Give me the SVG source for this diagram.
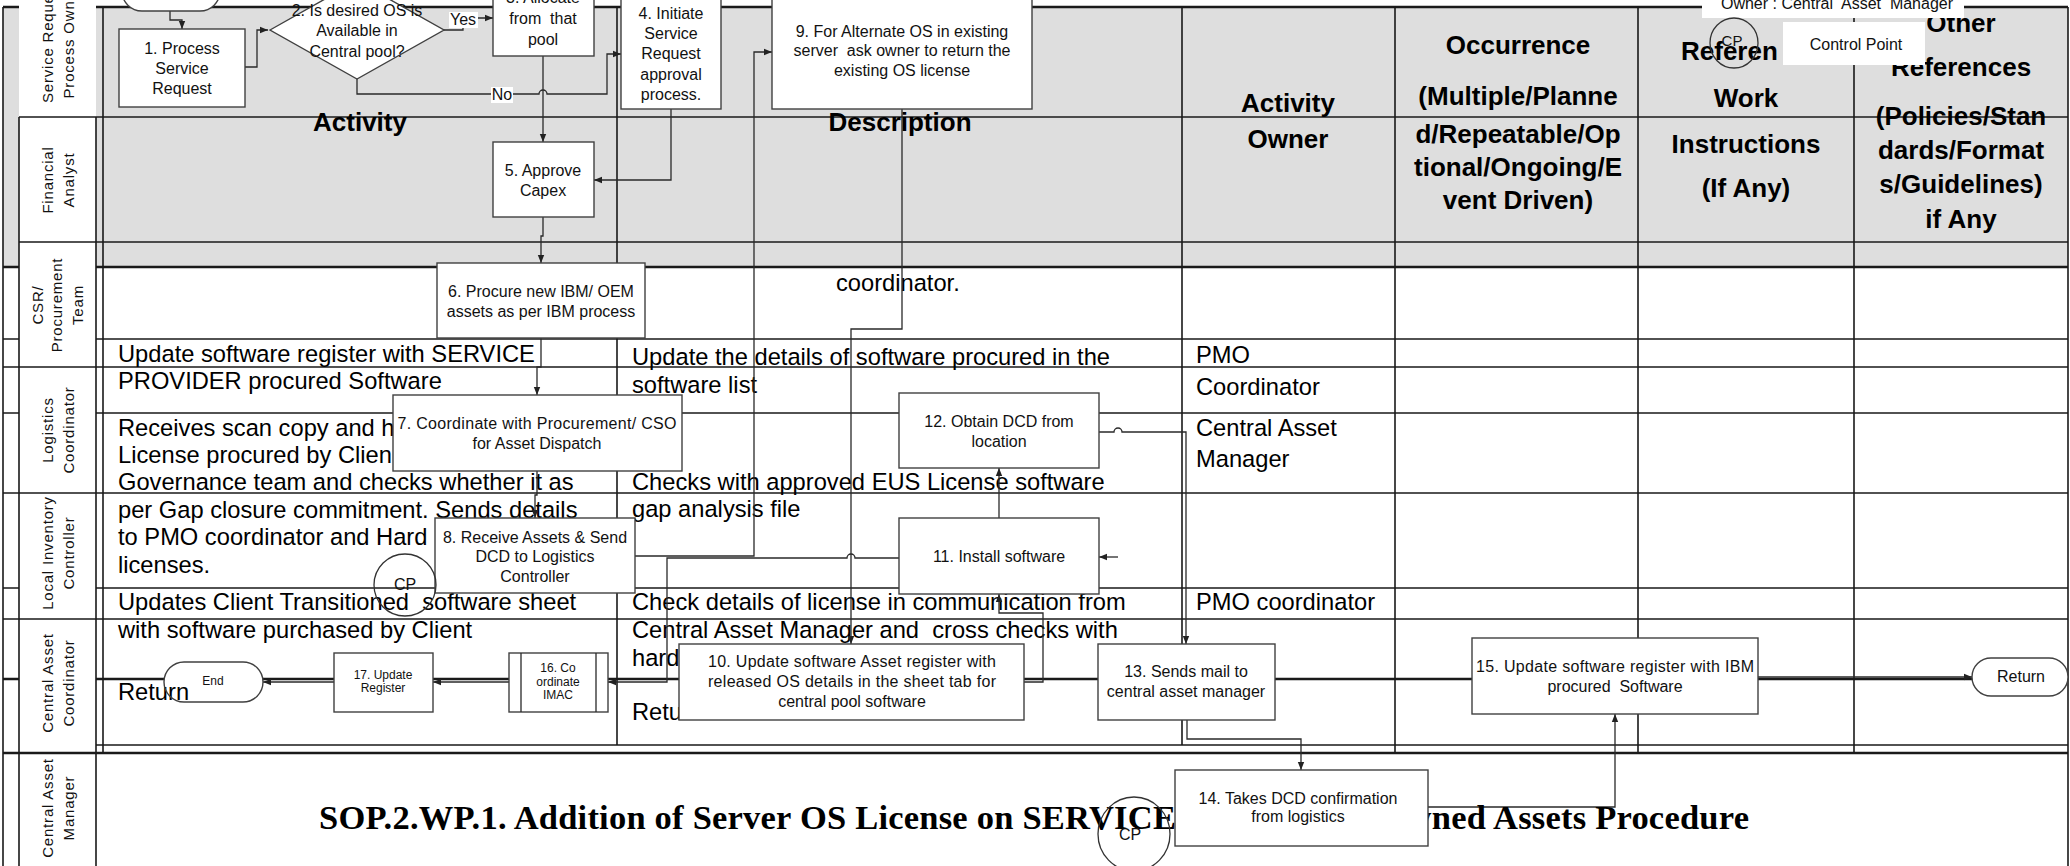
<svg xmlns="http://www.w3.org/2000/svg" width="2070" height="866" viewBox="0 0 2070 866">
<style>
.ln{stroke:#1a1a1a;stroke-width:1.6;fill:none}
.thk{stroke-width:2.4}
.box{fill:#fff;stroke:#404040;stroke-width:1.4}
.cn{fill:none;stroke:#2a2a2a;stroke-width:1.3}
.bt{font-family:"Liberation Sans",Arial,sans-serif;font-size:16px;fill:#111;text-anchor:middle}
.sm{font-size:12px}
.hd{font-family:"Liberation Sans",Arial,sans-serif;font-weight:bold;font-size:26px;fill:#000;text-anchor:middle}
.tx{font-family:"Liberation Sans",Arial,sans-serif;font-size:23.7px;fill:#000}
.lb{font-family:"Liberation Sans",Arial,sans-serif;font-size:15px;letter-spacing:0.8px;fill:#111;text-anchor:middle}
.ttl{font-family:"Liberation Serif","Times New Roman",serif;font-weight:bold;font-size:34.5px;fill:#000}
</style>
<defs>
<marker id="ah" viewBox="0 0 10 10" refX="10" refY="5" markerWidth="8" markerHeight="8" markerUnits="userSpaceOnUse" orient="auto"><path d="M0,1 L10,5 L0,9 z" fill="#222"/></marker>
</defs>
<rect width="2070" height="866" fill="#fff"/>

<!-- table: header band, grid and cell text -->
<g id="table">
<rect x="3" y="7" width="2065" height="260" fill="#dedede"/>
<path class="ln" d="M3,339H2068M3,367H2068M3,413H2068M3,493H2068M3,588H2068M3,619H2068M96,745H2068"/>
<path class="ln thk" d="M3,7H19M96,7H2068M3,267H2068M3,753H2068"/>
<path class="ln" d="M19,117H2068M19,242H2068"/>
<path class="ln thk" d="M3,679H19M96,679H164M263,679H2068"/>
<path class="ln" d="M3,7V866M103,7V753M617,7V745M1182,7V745M1395,7V753M1638,7V753M1854,7V753M2068,7V866"/>
</g>

<!-- swimlane label column -->
<g id="lanes">
<rect x="19" y="0" width="77" height="866" fill="#fff"/>
<path class="ln" d="M19,117V866M96,117V866M19,117H96M19,242H96M19,367H96M19,493H96M19,619H96"/>
<path class="ln thk" d="M19,753H96"/>
<text class="lb" transform="translate(48,42) rotate(-90)" y="5">Service Request</text>
<text class="lb" transform="translate(69,42) rotate(-90)" y="5">Process Owner</text>
<text class="lb" transform="translate(48,180) rotate(-90)" y="5">Financial</text>
<text class="lb" transform="translate(69,180) rotate(-90)" y="5">Analyst</text>
<text class="lb" transform="translate(38,305) rotate(-90)" y="5">CSR/</text>
<text class="lb" transform="translate(57,305) rotate(-90)" y="5">Procurement</text>
<text class="lb" transform="translate(78,305) rotate(-90)" y="5">Team</text>
<text class="lb" transform="translate(48,430) rotate(-90)" y="5">Logistics</text>
<text class="lb" transform="translate(69,430) rotate(-90)" y="5">Coordinator</text>
<text class="lb" transform="translate(48,553) rotate(-90)" y="5">Local Inventory</text>
<text class="lb" transform="translate(69,553) rotate(-90)" y="5">Controller</text>
<text class="lb" transform="translate(48,683) rotate(-90)" y="5">Central Asset</text>
<text class="lb" transform="translate(69,683) rotate(-90)" y="5">Coordinator</text>
<text class="lb" transform="translate(48,808) rotate(-90)" y="5">Central Asset</text>
<text class="lb" transform="translate(69,808) rotate(-90)" y="5">Manager</text>
</g>

<!-- column headings -->
<g id="headings">
<text class="hd" x="360" y="131">Activity</text>
<text class="hd" x="900" y="131">Description</text>
<text class="hd" x="1288" y="112">Activity</text>
<text class="hd" x="1288" y="148">Owner</text>
<text class="hd" x="1518" y="54">Occurrence</text>
<text class="hd" x="1518" y="105">(Multiple/Planne</text>
<text class="hd" x="1518" y="143">d/Repeatable/Op</text>
<text class="hd" x="1518" y="176">tional/Ongoing/E</text>
<text class="hd" x="1518" y="209">vent Driven)</text>
<text class="hd" x="1681" y="60" style="text-anchor:start">Referen</text>
<text class="hd" x="1746" y="107">Work</text>
<text class="hd" x="1746" y="153">Instructions</text>
<text class="hd" x="1746" y="197">(If Any)</text>
<text class="hd" x="1961" y="32">Other</text>
<text class="hd" x="1961" y="76">References</text>
<text class="hd" x="1961" y="125">(Policies/Stan</text>
<text class="hd" x="1961" y="159">dards/Format</text>
<text class="hd" x="1961" y="193">s/Guidelines)</text>
<text class="hd" x="1961" y="228">if Any</text>
</g>

<!-- cell text -->
<g id="cells">
<text class="tx" x="118" y="362">Update software register with SERVICE</text>
<text class="tx" x="118" y="389">PROVIDER procured Software</text>
<text class="tx" x="118" y="436">Receives scan copy and h</text>
<text class="tx" x="118" y="463">License procured by Clien</text>
<text class="tx" x="118" y="490">Governance team and checks whether it as</text>
<text class="tx" x="118" y="518">per Gap closure commitment. Sends details</text>
<text class="tx" x="118" y="545">to PMO coordinator and Hard</text>
<text class="tx" x="118" y="573">licenses.</text>
<text class="tx" x="118" y="610" xml:space="preserve">Updates Client Transitioned  software sheet</text>
<text class="tx" x="118" y="638">with software purchased by Client</text>
<text class="tx" x="118" y="700">Return</text>
<text class="tx" x="836" y="291">coordinator.</text>
<text class="tx" x="632" y="365">Update the details of software procured in the</text>
<text class="tx" x="632" y="393">software list</text>
<text class="tx" x="632" y="490">Checks with approved EUS License software</text>
<text class="tx" x="632" y="517">gap analysis file</text>
<text class="tx" x="632" y="610">Check details of license in communication from</text>
<text class="tx" x="632" y="638" xml:space="preserve">Central Asset Manager and  cross checks with</text>
<text class="tx" x="632" y="666">hard</text>
<text class="tx" x="632" y="720">Retu</text>
<text class="tx" x="1196" y="363">PMO</text>
<text class="tx" x="1196" y="395">Coordinator</text>
<text class="tx" x="1196" y="436">Central Asset</text>
<text class="tx" x="1196" y="467">Manager</text>
<text class="tx" x="1196" y="610">PMO coordinator</text>
</g>

<!-- flow connectors -->
<g id="connectors">
<path class="cn" d="M170,11V20H182V29" marker-end="url(#ah)"/>
<path class="cn" d="M245,67H257V30H268" marker-end="url(#ah)"/>
<path class="cn" d="M444,30H463V18H493" marker-end="url(#ah)"/>
<path class="cn" d="M357,79V94H539a4,4 0 0 1 8,0H607V54H621" marker-end="url(#ah)"/>
<path class="cn" d="M543,56V142" marker-end="url(#ah)"/>
<path class="cn" d="M671,109V180H594" marker-end="url(#ah)"/>
<path class="cn" d="M543,217V236H541V263" marker-end="url(#ah)"/>
<path class="cn" d="M541,338V367H537V395" marker-end="url(#ah)"/>
<path class="cn" d="M537,471V495H535V518" marker-end="url(#ah)"/>
<path class="cn" d="M635,556H754V52H772" marker-end="url(#ah)"/>
<path class="cn" d="M902,109V329H851V644" marker-end="url(#ah)"/>
<path class="cn" d="M899,558H855a4,4 0 0 0 -8,0H667V682H608" marker-end="url(#ah)"/>
<path class="cn" d="M509,682H433" marker-end="url(#ah)"/>
<path class="cn" d="M334,682H263" marker-end="url(#ah)"/>
<path class="cn" d="M1024,682H1043V613H999V594" marker-end="url(#ah)"/>
<path class="cn" d="M999,518V468" marker-end="url(#ah)"/>
<path class="cn" d="M1118,557H1099" marker-end="url(#ah)"/>
<path class="cn" d="M1099,432H1114a4,4 0 0 1 8,0H1186V644" marker-end="url(#ah)"/>
<path class="cn" d="M1187,720V739H1301V770" marker-end="url(#ah)"/>
<path class="cn" d="M1428,807H1615V714" marker-end="url(#ah)"/>
<path class="cn" d="M1758,677H1972" marker-end="url(#ah)"/>
<rect x="449" y="12" width="29" height="16" fill="#fff"/>
<text class="bt" x="463" y="25">Yes</text>
<rect x="491" y="87" width="22" height="16" fill="#fff"/>
<text class="bt" x="502" y="100">No</text>
</g>

<!-- process steps -->
<g id="start"><rect class="box" x="122" y="-30" width="98" height="41" rx="20"/></g>
<g id="step1"><rect class="box" x="119" y="29" width="126" height="78"/>
<text class="bt" x="182" y="54">1. Process</text><text class="bt" x="182" y="74">Service</text><text class="bt" x="182" y="94">Request</text></g>
<g id="step2"><polygon class="box" points="270,30 357,-19 444,30 357,79"/>
<text class="bt" x="357" y="16">2. Is desired OS is</text><text class="bt" x="357" y="36">Available in</text><text class="bt" x="357" y="57">Central pool?</text></g>
<g id="step3"><rect class="box" x="493" y="-5" width="101" height="61"/>
<text class="bt" x="543" y="3">3. Allocate</text><text class="bt" x="543" y="24" xml:space="preserve">from  that</text><text class="bt" x="543" y="45">pool</text></g>
<g id="step4"><rect class="box" x="621" y="-5" width="100" height="114"/>
<text class="bt" x="671" y="19">4. Initiate</text><text class="bt" x="671" y="39">Service</text><text class="bt" x="671" y="59">Request</text><text class="bt" x="671" y="80">approval</text><text class="bt" x="671" y="100">process.</text></g>
<g id="step5"><rect class="box" x="493" y="142" width="101" height="75"/>
<text class="bt" x="543" y="176">5. Approve</text><text class="bt" x="543" y="196">Capex</text></g>
<g id="step6"><rect class="box" x="437" y="263" width="208" height="75"/>
<text class="bt" x="541" y="297">6. Procure new IBM/ OEM</text><text class="bt" x="541" y="317">assets as per IBM process</text></g>
<g id="step7"><rect class="box" x="393" y="395" width="289" height="76"/>
<text class="bt" x="537" y="429" textLength="279" lengthAdjust="spacing">7. Coordinate with Procurement/ CSO</text><text class="bt" x="537" y="449">for Asset Dispatch</text></g>
<g id="step8"><rect class="box" x="435" y="518" width="200" height="75"/>
<text class="bt" x="535" y="543">8. Receive Assets &amp; Send</text><text class="bt" x="535" y="562">DCD to Logistics</text><text class="bt" x="535" y="582">Controller</text></g>
<g id="step9"><rect class="box" x="772" y="-5" width="260" height="114"/>
<text class="bt" x="902" y="37">9. For Alternate OS in existing</text><text class="bt" x="902" y="56" xml:space="preserve">server  ask owner to return the</text><text class="bt" x="902" y="76">existing OS license</text></g>
<g id="step10"><rect class="box" x="679" y="644" width="345" height="76"/>
<text class="bt" x="852" y="667" textLength="288" lengthAdjust="spacing">10. Update software Asset register with</text><text class="bt" x="852" y="687" textLength="288" lengthAdjust="spacing">released OS details in the sheet tab for</text><text class="bt" x="852" y="707">central pool software</text></g>
<g id="step11"><rect class="box" x="899" y="518" width="200" height="76"/>
<text class="bt" x="999" y="562">11. Install software</text></g>
<g id="step12"><rect class="box" x="899" y="393" width="200" height="75"/>
<text class="bt" x="999" y="427">12. Obtain DCD from</text><text class="bt" x="999" y="447">location</text></g>
<g id="step13"><rect class="box" x="1098" y="644" width="177" height="76"/>
<text class="bt" x="1186" y="677">13. Sends mail to</text><text class="bt" x="1186" y="697">central asset manager</text></g>
<g id="step16"><rect class="box" x="509" y="653" width="99" height="59"/>
<path class="cn" d="M521,653V712M596,653V712"/>
<text class="bt sm" x="558" y="672">16. Co</text><text class="bt sm" x="558" y="686">ordinate</text><text class="bt sm" x="558" y="699">IMAC</text></g>
<g id="step17"><rect class="box" x="334" y="653" width="99" height="59"/>
<text class="bt sm" x="383" y="679">17. Update</text><text class="bt sm" x="383" y="692">Register</text></g>
<g id="end"><rect x="164" y="662" width="99" height="40" rx="20" fill="none" stroke="#404040" stroke-width="1.4"/>
<text class="bt sm" x="213" y="685">End</text></g>
<g id="step15"><rect class="box" x="1472" y="638" width="286" height="76"/>
<text class="bt" x="1615" y="672" textLength="278" lengthAdjust="spacing">15. Update software register with IBM</text><text class="bt" x="1615" y="692" xml:space="preserve">procured  Software</text></g>
<g id="return"><rect class="box" x="1972" y="658" width="96" height="38" rx="19"/>
<text class="bt" x="2021" y="682">Return</text></g>

<!-- procedure title -->
<text class="ttl" x="319" y="829" textLength="1430" lengthAdjust="spacing">SOP.2.WP.1. Addition of Server OS License on SERVICE PROVIDER Owned Assets Procedure</text>

<g id="step14"><rect class="box" x="1175" y="770" width="253" height="76"/>
<text class="bt" x="1298" y="804">14. Takes DCD confirmation</text><text class="bt" x="1298" y="822">from logistics</text></g>

<!-- control points and ownership note -->
<g id="cp-dispatch"><circle cx="405" cy="585" r="31" fill="none" stroke="#333" stroke-width="1.3"/>
<text class="bt" x="405" y="590">CP</text></g>
<g id="cp-confirm"><ellipse cx="1134" cy="834" rx="36" ry="37" fill="none" stroke="#333" stroke-width="1.3"/>
<text class="bt" x="1130" y="840">CP</text></g>
<g id="owner-note"><rect x="1702" y="-2" width="262" height="20" fill="#fff"/>
<text class="bt" x="1837" y="9" xml:space="preserve">Owner : Central  Asset  Manager</text></g>
<g id="legend-cp"><ellipse cx="1734" cy="43" rx="24" ry="25" fill="none" stroke="#333" stroke-width="1.3"/>
<text class="bt" x="1732" y="46" style="font-size:15px">CP</text></g>
<g id="legend-label"><rect x="1783" y="22" width="142" height="43" fill="#fff"/>
<text class="bt" x="1856" y="50">Control Point</text></g>
</svg>
